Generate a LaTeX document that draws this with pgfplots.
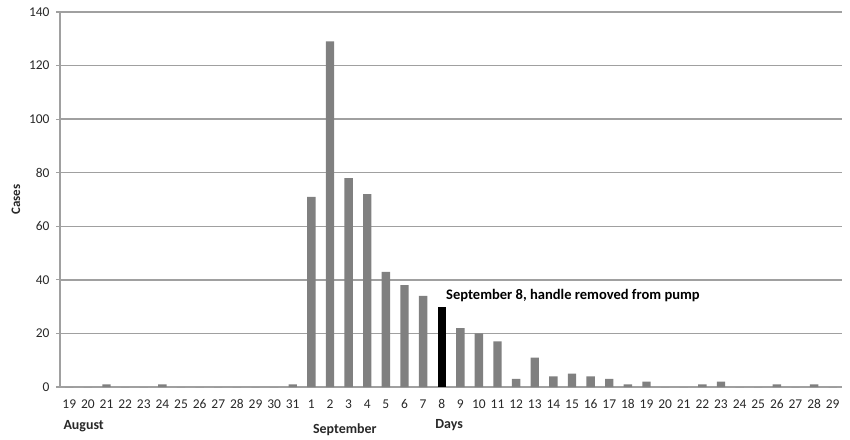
\documentclass[border=0pt]{standalone}
\usepackage{pgfplots}
\pgfplotsset{compat=1.18}
\usepackage{pgfplotstable}
\usepackage{fontspec}
\setmainfont{Carlito}
\definecolor{barg}{RGB}{128,128,128}
\definecolor{gridg}{RGB}{160,160,160}
\definecolor{txt}{RGB}{40,40,40}
\pgfplotstableread{
x y
0 0
1 0
2 1
3 0
4 0
5 1
6 0
7 0
8 0
9 0
10 0
11 0
12 1
13 71
14 129
15 78
16 72
17 43
18 38
19 34
21 22
22 20
23 17
24 3
25 11
26 4
27 5
28 4
29 3
30 1
31 2
32 0
33 0
34 1
35 2
36 0
37 0
38 1
39 0
40 1
41 0
}\greydata
\pgfplotstableread{
x y
20 30
}\blackdata
\begin{document}
\begin{tikzpicture}
\begin{axis}[
  scale only axis,
  width=782bp, height=375bp,
  xmin=-0.5, xmax=41.5,
  ymin=0, ymax=140,
  ytick={0,20,...,140},
  xtick={0,...,41},
  xticklabels={19,20,21,22,23,24,25,26,27,28,29,30,31,1,2,3,4,5,6,7,8,9,10,11,12,13,14,15,16,17,18,19,20,21,22,23,24,25,26,27,28,29},
  axis x line*=bottom, axis y line*=left,
  x axis line style={-, draw=gridg, line width=1.2bp},
  y axis line style={-, draw=gridg, line width=1.5bp},
  ymajorgrids,
  major grid style={draw=gridg, line width=1.5bp},
  xtick style={draw=none},
  ytick style={draw=gridg, line width=1.2bp},
  tick align=outside,
  major tick length=4bp,
  tick label style={font=\fontsize{13.5}{15}\selectfont, text=txt},
  /pgf/number format/assume math mode=true,
  yticklabel style={xshift=-3bp},
  xticklabel style={yshift=-5bp},
  ylabel={Cases},
  ylabel style={at={(axis description cs:-0.0563,0.5)}, anchor=center, font=\fontsize{13}{15}\selectfont\bfseries, text=txt},
  clip=false,
]
\addplot[ybar, bar width=0.45, bar shift=0pt, fill=barg, draw=none] table[x=x,y=y]{\greydata};
\addplot[ybar, bar width=0.45, bar shift=0pt, fill=black, draw=none] table[x=x,y=y]{\blackdata};
\node[anchor=west, font=\fontsize{14.6}{16}\selectfont\bfseries, text=black] at (axis cs:20.05,34.3) {September 8, handle removed from pump};
\node[anchor=west, font=\fontsize{14}{16}\selectfont\bfseries, text=txt] at (axis cs:-0.5,-14.6) {August};
\node[anchor=center, font=\fontsize{14}{16}\selectfont\bfseries, text=txt] at (axis cs:14.8,-16) {September};
\node[anchor=center, font=\fontsize{14}{16}\selectfont\bfseries, text=txt] at (axis cs:20.4,-14.3) {Days};
\end{axis}
\pgfresetboundingbox
\path[use as bounding box] ([xshift=-60bp,yshift=-53bp]current axis.south west) rectangle ([xshift=8bp,yshift=12bp]current axis.north east);
\end{tikzpicture}
\end{document}
